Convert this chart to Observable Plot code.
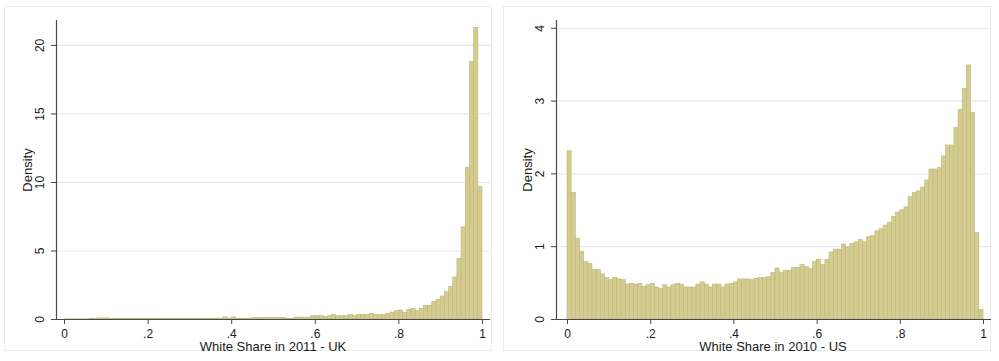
<!DOCTYPE html>
<html>
<head>
<meta charset="utf-8">
<script src="https://cdn.jsdelivr.net/npm/d3@7"></script>
<script src="https://cdn.jsdelivr.net/npm/@observablehq/plot@0.6"></script>
<style>
  html, body { margin: 0; padding: 0; background: #fff; }
  #wrap { position: relative; width: 999px; height: 361px; overflow: hidden; }
  .panel { position: absolute; top: 0; width: 499px; height: 361px; }
  .frame { position: absolute; top: 6px; height: 345px; width: 488px; border: 1px solid #e7eeee; box-sizing: border-box; }
</style>
</head>
<body>
<div id="wrap">
  <div class="frame" style="left:4px"></div>
  <div class="frame" style="left:503px"></div>
  <div class="panel" id="uk" style="left:0px"></div>
  <div class="panel" id="us" style="left:500px"></div>
</div>
<script>
// Bin starts (width 0.01), 100 bins from 0 to 1
const binStarts = d3.range(100).map(i => i / 100);
const binWidth = 0.01;

// UK: density of white share in 2011
const ukDensity = [
  0.01,0.01,0.01,0.01,0.01,0.01,0.06,0.04,0.08,0.08,
  0.08,0.04,0.03,0.06,0.06,0.06,0.06,0.06,0.06,0.06,
  0.06,0.06,0.06,0.06,0.06,0.06,0.06,0.06,0.06,0.06,
  0.06,0.06,0.06,0.06,0.06,0.06,0.06,0.06,0.15,0.06,
  0.15,0.06,0.06,0.06,0.06,0.12,0.12,0.12,0.12,0.12,
  0.12,0.12,0.12,0.06,0.06,0.14,0.14,0.14,0.14,0.24,
  0.24,0.24,0.17,0.24,0.34,0.24,0.24,0.24,0.34,0.24,
  0.34,0.34,0.34,0.41,0.34,0.34,0.34,0.41,0.51,0.61,
  0.66,0.49,0.71,0.78,0.61,0.78,1.00,1.00,1.27,1.44,
  1.68,2.00,2.36,3.07,4.43,6.72,11.05,18.8,21.27,9.68
];

// US: density of white share in 2010
const usDensity = [
  2.31,1.74,1.11,0.93,0.79,0.76,0.68,0.68,0.62,0.57,
  0.54,0.57,0.55,0.54,0.48,0.49,0.48,0.49,0.45,0.47,
  0.49,0.44,0.42,0.47,0.44,0.47,0.49,0.48,0.44,0.44,
  0.44,0.48,0.51,0.48,0.44,0.48,0.48,0.44,0.48,0.49,
  0.51,0.55,0.55,0.55,0.54,0.56,0.57,0.57,0.58,0.64,
  0.70,0.64,0.67,0.67,0.71,0.71,0.75,0.72,0.69,0.79,
  0.82,0.75,0.82,0.92,0.96,0.96,1.03,0.99,1.04,1.06,
  1.09,1.06,1.13,1.15,1.21,1.24,1.29,1.33,1.41,1.47,
  1.50,1.54,1.68,1.74,1.76,1.81,1.91,2.06,2.06,2.08,
  2.24,2.39,2.39,2.63,2.88,3.17,3.49,2.84,1.19,0.13
];

const xTicks = [0, 0.2, 0.4, 0.6, 0.8, 1];
const xTickLabels = ["0", ".2", ".4", ".6", ".8", "1"];
const ukYTicks = [0, 5, 10, 15, 20];
const usYTicks = [0, 1, 2, 3, 4];
const ukTitle = "White Share in 2011 - UK";
const usTitle = "White Share in 2010 - US";
const yTitle = "Density";

const barFill = "#d4cc90";
const barStroke = "#bdb577";
const axisColor = "#4a4a4a";
const gridColor = "#e3eced";

function panel(values, yTicks, yMax, xRange, marginRight, axisDx, title, titleDx) {
  const data = binStarts.map((b, i) => ({x1: b, x2: b + binWidth, y: values[i]}));
  return Plot.plot({
    width: 499,
    height: 361,
    marginTop: 20,
    marginBottom: 42,
    marginLeft: 51,
    marginRight: marginRight,
    style: {fontFamily: "'Liberation Sans', Arial, sans-serif", fontSize: "12px", color: "#1a1a1a", background: "transparent"},
    x: {domain: [0, 1], range: xRange},
    y: {domain: [0, yMax]},
    marks: [
      Plot.gridY(yTicks.filter(d => d > 0), {stroke: gridColor, strokeOpacity: 1, strokeWidth: 1.2}),
      Plot.rectY(data, {x1: "x1", x2: "x2", y: "y", fill: barFill, stroke: barStroke, strokeWidth: 0.6}),
      Plot.ruleY([0], {stroke: axisColor, strokeWidth: 1.2}),
      Plot.ruleX([0], {dx: axisDx, stroke: axisColor, strokeWidth: 1.2}),
      Plot.axisX(xTicks, {tickSize: 5, tickPadding: 5, tickFormat: d => xTickLabels[xTicks.indexOf(d)], stroke: axisColor, fontSize: 12, label: null}),
      Plot.axisY(yTicks, {tickSize: 5, dx: 5, tickRotate: -90, tickPadding: 7.7, tickFormat: d => String(d), stroke: axisColor, fontSize: 12, label: null}),
      Plot.text([title], {frameAnchor: "bottom", dy: 27, dx: titleDx, lineAnchor: "middle", fontSize: 13, fill: "#1a1a1a"}),
      Plot.text([yTitle], {frameAnchor: "left", dx: -23.7, rotate: -90, textAnchor: "middle", lineAnchor: "middle", fontSize: 13, fill: "#1a1a1a"})
    ]
  });
}

document.getElementById("uk").appendChild(
  panel(ukDensity, ukYTicks, 21.82, [64, 482], 9, -8, ukTitle, 2)
);
document.getElementById("us").appendChild(
  panel(usDensity, usYTicks, 4.107, [67, 483], 8, -11, usTitle, 1.5)
);
</script>
</body>
</html>
